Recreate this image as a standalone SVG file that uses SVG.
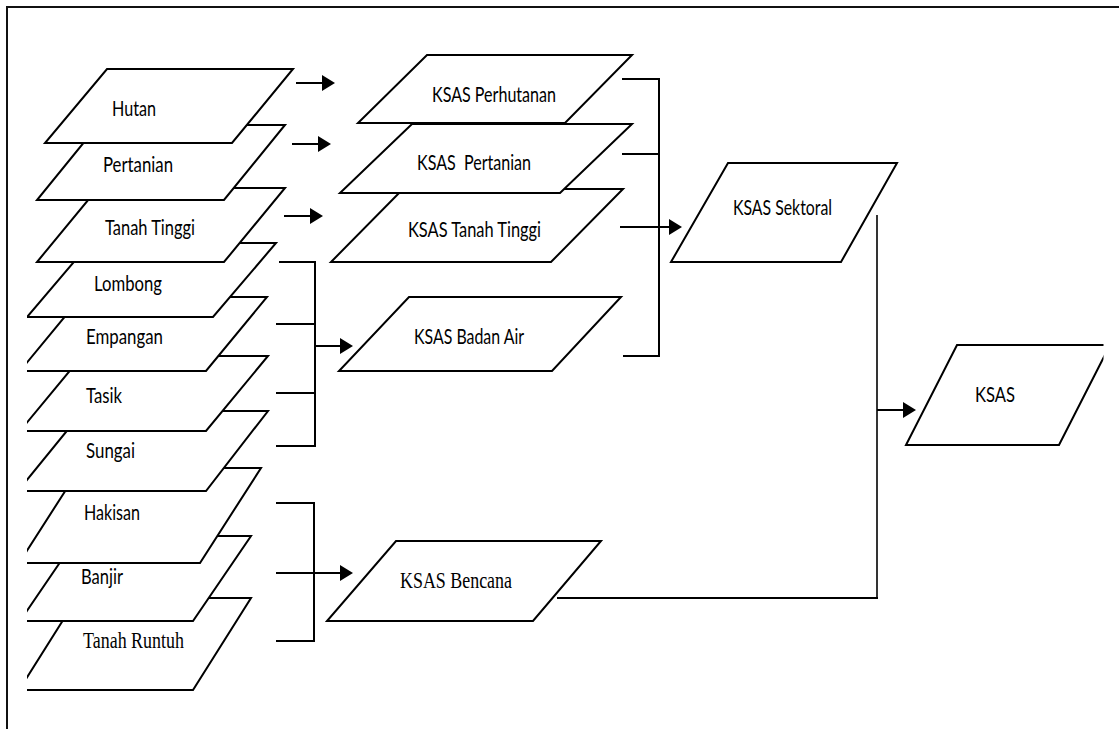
<svg xmlns="http://www.w3.org/2000/svg" width="1119" height="729" viewBox="0 0 1119 729">
  <style>
    .shape { fill: #ffffff; stroke: #000000; stroke-width: 2; stroke-linejoin: miter; }
    .link { fill: none; stroke: #000000; stroke-width: 2; }
    .thin { fill: none; stroke: #000000; stroke-width: 1.6; }
    .frame { fill: none; stroke: #111111; stroke-width: 2; }
    .sans { font-family: Lato, "Open Sans", "Liberation Sans", sans-serif; font-size: 21.5px; fill: #000000; white-space: pre; }
    .serif { font-family: "Liberation Serif", "Times New Roman", serif; font-size: 22.5px; fill: #000000; white-space: pre; }
  </style>
  <defs>
    <marker id="arrow" markerUnits="userSpaceOnUse" markerWidth="14" markerHeight="18" viewBox="0 0 14 18" refX="10" refY="9" orient="auto">
      <path d="M0,1 L13,9 L0,17 z" fill="#000000"/>
    </marker>
    <clipPath id="leftCrop">
      <rect x="27" y="0" width="400" height="729"/>
    </clipPath>
    <clipPath id="rightCrop">
      <rect x="0" y="0" width="1103.5" height="729"/>
    </clipPath>
  </defs>

  <rect x="0" y="0" width="1119" height="729" fill="#ffffff"/>

  <!-- page frame (top and left edges) -->
  <g id="frame">
    <line class="frame" x1="6" y1="7" x2="1119" y2="7"/>
    <line class="frame" x1="7" y1="6" x2="7" y2="729"/>
  </g>

  <!-- input layers, drawn bottom of the stack first -->
  <g id="layers" clip-path="url(#leftCrop)">
    <g id="layer-tanah-runtuh">
      <polygon class="shape" points="77,598 251,598 193,690 19,690"/>
      <text class="serif" x="83" y="648" textLength="101" lengthAdjust="spacingAndGlyphs">Tanah Runtuh</text>
    </g>
    <g id="layer-banjir">
      <polygon class="shape" points="78,536 251,536 193,621 20,621"/>
      <text class="sans" x="81" y="584" textLength="42" lengthAdjust="spacingAndGlyphs">Banjir</text>
    </g>
    <g id="layer-hakisan">
      <polygon class="shape" points="80,468 261,468 200,563 19,563"/>
      <text class="sans" x="84" y="520" textLength="56" lengthAdjust="spacingAndGlyphs">Hakisan</text>
    </g>
    <g id="layer-sungai">
      <polygon class="shape" points="83,411 268,411 206,491 18,491"/>
      <text class="sans" x="86" y="458" textLength="49" lengthAdjust="spacingAndGlyphs">Sungai</text>
    </g>
    <g id="layer-tasik">
      <polygon class="shape" points="82,356 268,356 206,431 20,431"/>
      <text class="sans" x="86" y="403" textLength="36" lengthAdjust="spacingAndGlyphs">Tasik</text>
    </g>
    <g id="layer-empangan">
      <polygon class="shape" points="81,297 267,297 206,371 20,371"/>
      <text class="sans" x="86" y="344" textLength="77" lengthAdjust="spacingAndGlyphs">Empangan</text>
    </g>
    <g id="layer-lombong">
      <polygon class="shape" points="90,243 276,243 213,317 27,317"/>
      <text class="sans" x="94" y="291" textLength="68" lengthAdjust="spacingAndGlyphs">Lombong</text>
    </g>
    <g id="layer-tanah-tinggi">
      <polygon class="shape" points="98,188 285,188 224,262 37,262"/>
      <text class="sans" x="105" y="235" textLength="90" lengthAdjust="spacingAndGlyphs">Tanah Tinggi</text>
    </g>
    <g id="layer-pertanian">
      <polygon class="shape" points="98,125 285,125 224,200 37,200"/>
      <text class="sans" x="103" y="172" textLength="70" lengthAdjust="spacingAndGlyphs">Pertanian</text>
    </g>
    <g id="layer-hutan">
      <polygon class="shape" points="107,69 293,69 232,143 45,143"/>
      <text class="sans" x="112" y="116" textLength="44" lengthAdjust="spacingAndGlyphs">Hutan</text>
    </g>
  </g>

  <!-- connectors -->
  <g id="connectors">
    <!-- sector layers to their KSAS maps -->
    <line class="link" x1="296" y1="83" x2="332" y2="83" marker-end="url(#arrow)"/>
    <line class="link" x1="292" y1="144" x2="328" y2="144" marker-end="url(#arrow)"/>
    <line class="link" x1="284" y1="216" x2="320" y2="216" marker-end="url(#arrow)"/>

    <!-- water bodies bracket -->
    <polyline class="link" points="279,262 315,262 315,446 276,446"/>
    <line class="link" x1="276" y1="324" x2="315" y2="324"/>
    <line class="link" x1="276" y1="393" x2="315" y2="393"/>
    <line class="link" x1="315" y1="346" x2="350" y2="346" marker-end="url(#arrow)"/>

    <!-- hazard bracket -->
    <polyline class="link" points="276,503 314,503 314,641 276,641"/>
    <line class="link" x1="276" y1="573" x2="350" y2="573" marker-end="url(#arrow)"/>

    <!-- sectoral bracket -->
    <polyline class="link" points="622,79 659,79 659,356 623,356"/>
    <line class="link" x1="622" y1="154" x2="659" y2="154"/>
    <line class="link" x1="620" y1="227" x2="679" y2="227" marker-end="url(#arrow)"/>

    <!-- final merge -->
    <line class="thin" x1="877" y1="215" x2="877" y2="598"/>
    <line class="link" x1="557" y1="598" x2="878" y2="598"/>
    <line class="link" x1="877" y1="410" x2="913" y2="410" marker-end="url(#arrow)"/>
  </g>

  <!-- KSAS maps -->
  <g id="ksas-tanah-tinggi">
    <polygon class="shape" points="403,189 623,189 551,262 331,262"/>
    <text class="sans" x="408" y="237" textLength="133" lengthAdjust="spacingAndGlyphs">KSAS Tanah Tinggi</text>
  </g>
  <g id="ksas-pertanian">
    <polygon class="shape" points="412,124 632,124 560,193 340,193"/>
    <text class="sans" x="417" y="170" textLength="114" lengthAdjust="spacingAndGlyphs">KSAS  Pertanian</text>
  </g>
  <g id="ksas-perhutanan">
    <polygon class="shape" points="427,55 632,55 565,123 358,123"/>
    <text class="sans" x="432" y="102" textLength="124" lengthAdjust="spacingAndGlyphs">KSAS Perhutanan</text>
  </g>
  <g id="ksas-badan-air">
    <polygon class="shape" points="409,297 621,297 552,371 339,371"/>
    <text class="sans" x="414" y="344" textLength="110" lengthAdjust="spacingAndGlyphs">KSAS Badan Air</text>
  </g>
  <g id="ksas-bencana">
    <polygon class="shape" points="396,541 601,541 533,621 327,621"/>
    <text class="serif" x="400" y="588" textLength="112" lengthAdjust="spacingAndGlyphs">KSAS Bencana</text>
  </g>
  <g id="ksas-sektoral">
    <polygon class="shape" points="728,163 897,163 841,262 671,262"/>
    <text class="sans" x="733" y="215" textLength="99" lengthAdjust="spacingAndGlyphs">KSAS Sektoral</text>
  </g>
  <g id="ksas" clip-path="url(#rightCrop)">
    <polygon class="shape" points="957,345 1110,345 1059,445 906,445"/>
    <text class="sans" x="975" y="402" textLength="40" lengthAdjust="spacingAndGlyphs">KSAS</text>
  </g>
</svg>
